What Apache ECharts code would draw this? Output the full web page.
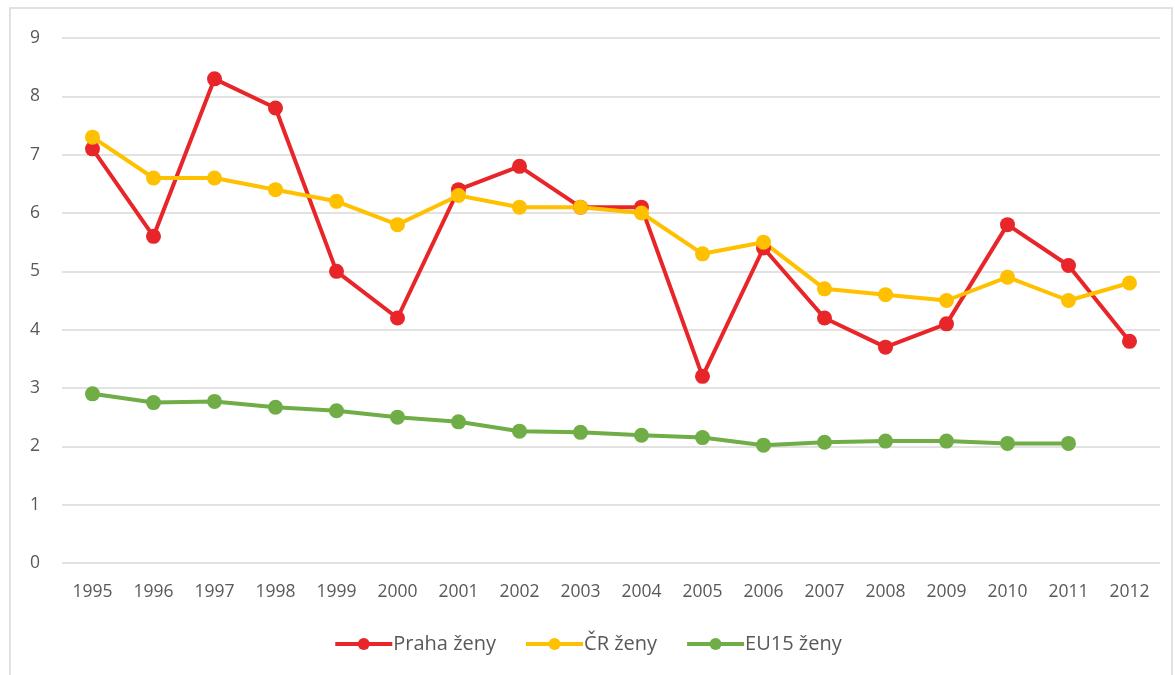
<!DOCTYPE html>
<html>
<head>
<meta charset="utf-8">
<script src="https://cdn.jsdelivr.net/npm/echarts@6/dist/echarts.min.js"></script>
<style>
  html,body{margin:0;padding:0;background:#fff;}
  #chart{width:1175px;height:675px;}
</style>
</head>
<body>
<div id="chart"></div>
<script>
// roky
var years = ['1995','1996','1997','1998','1999','2000','2001','2002','2003','2004','2005','2006','2007','2008','2009','2010','2011','2012'];
// Praha ženy
var prahaZeny = [7.1,5.6,8.3,7.8,5.0,4.2,6.4,6.8,6.1,6.1,3.2,5.4,4.2,3.7,4.1,5.8,5.1,3.8];
// ČR ženy
var crZeny = [7.3,6.6,6.6,6.4,6.2,5.8,6.3,6.1,6.1,6.0,5.3,5.5,4.7,4.6,4.5,4.9,4.5,4.8];
// EU15 ženy (2012 chybí)
var eu15Zeny = [2.9,2.75,2.77,2.67,2.61,2.5,2.42,2.26,2.24,2.19,2.15,2.02,2.07,2.09,2.09,2.05,2.05,null];

var seriesNames = ['Praha ženy','ČR ženy','EU15 ženy'];
var colors = ['#E8262A','#FFC000','#70AD47'];

var myChart = echarts.init(document.getElementById('chart'));

function line(name,data,color){
	return {
		name:name,
		type:'line',
		data:data,
		symbol:'circle',
		symbolSize:15,
		showAllSymbol:true,
		lineStyle:{width:4,color:color},
		itemStyle:{color:color},
		emphasis:{disabled:true},
		animation:false
	};
}

var option = {
	animation:false,
	textStyle:{fontFamily:'"Open Sans", sans-serif'},
	graphic:[{
		type:'rect',
		shape:{x:10,y:8,width:1162,height:680},
		style:{fill:'none',stroke:'#d9d9d9',lineWidth:1.5},
		silent:true
	}],
	grid:{left:62,right:15,top:38,bottom:112},
	legend:{
		bottom:16,
		left:'center',
		itemWidth:57,
		itemHeight:15,
		itemGap:28,
		lineStyle:{width:4},
		textStyle:{fontSize:20,color:'#595959',padding:[0,0,0,-4]},
		data:seriesNames
	},
	xAxis:{
		type:'category',
		data:years,
		boundaryGap:true,
		axisLine:{show:false},
		axisTick:{show:false},
		axisLabel:{fontSize:17.5,color:'#595959',margin:20}
	},
	yAxis:{
		type:'value',
		min:0,
		max:9,
		interval:1,
		axisLine:{show:false},
		axisTick:{show:false},
		axisLabel:{fontSize:17.5,color:'#595959',margin:22},
		splitLine:{lineStyle:{color:'#d9d9d9',width:1.5}}
	},
	series:[
		line(seriesNames[0],prahaZeny,colors[0]),
		line(seriesNames[1],crZeny,colors[1]),
		line(seriesNames[2],eu15Zeny,colors[2])
	]
};
myChart.setOption(option);
</script>
</body>
</html>
